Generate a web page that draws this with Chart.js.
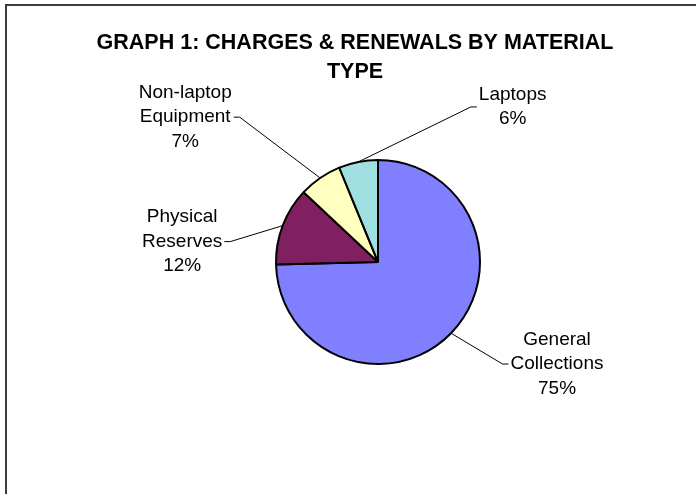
<!DOCTYPE html>
<html><head><meta charset="utf-8">
<script src="https://cdn.jsdelivr.net/npm/chart.js@4.4.1/dist/chart.umd.min.js"></script>
<style>
html,body{margin:0;padding:0;background:#fff;overflow:hidden}
#wrap{position:relative;width:696px;height:494px;overflow:hidden}
#frame{position:absolute;left:5px;top:4px;width:800px;height:600px;border-left:2px solid #3c3c3c;border-top:2px solid #3c3c3c;box-sizing:border-box}
canvas{position:absolute;left:0;top:0}
</style></head><body>
<div id="wrap"><div id="frame"></div><canvas id="c" width="696" height="494"></canvas></div>
<script>
const titleLines = ['GRAPH 1: CHARGES & RENEWALS BY MATERIAL', 'TYPE'];
const categories = ['General Collections', 'Physical Reserves', 'Non-laptop Equipment', 'Laptops'];
const values = [74.6, 12.4, 6.8, 6.2];
const colors = ['#8080FF', '#802060', '#FFFFC0', '#A0E0E0'];
// label block anchor (centre x, middle y) relative to pie centre, in units of the pie radius
const labelAnchors = [[1.755, 1.0], [-1.92, -0.2], [-1.89, -1.42], [1.32, -1.52]];

const labelPlugin = {
  id: 'excelLabels',
  afterDraw(chart) {
    const ctx = chart.ctx;
    const meta = chart.getDatasetMeta(0);
    const total = values.reduce((a, b) => a + b, 0);
    ctx.save();
    ctx.fillStyle = '#000';
    ctx.strokeStyle = '#000';
    ctx.lineWidth = 1;
    ctx.textAlign = 'center';
    ctx.textBaseline = 'middle';
    // title
    ctx.font = 'bold 21.5px "Liberation Sans", Arial, sans-serif';
    titleLines.forEach((t, k) => ctx.fillText(t, 355, 43 + k * 29.5));
    // data labels with leader lines
    ctx.font = '19px "Liberation Sans", Arial, sans-serif';
    const lh = 24.5;
    meta.data.forEach((arc, i) => {
      const p = arc.getProps(['x', 'y', 'startAngle', 'endAngle', 'outerRadius'], true);
      const mid = (p.startAngle + p.endAngle) / 2;
      const px = p.x + Math.cos(mid) * p.outerRadius;
      const py = p.y + Math.sin(mid) * p.outerRadius;
      const lines = categories[i].split(' ').concat([Math.round(values[i] / total * 100) + '%']);
      const cx = p.x + labelAnchors[i][0] * p.outerRadius;
      const cy = p.y + labelAnchors[i][1] * p.outerRadius;
      const w = Math.max(...lines.map(l => ctx.measureText(l).width));
      const n = lines.length;
      lines.forEach((l, k) => ctx.fillText(l, cx, cy + (k - (n - 1) / 2) * lh));
      const side = cx > p.x ? -1 : 1;
      const ex = cx + side * (w / 2 + 2);
      const hx = ex + side * 6;
      ctx.beginPath();
      ctx.moveTo(px, py);
      ctx.lineTo(hx, cy);
      ctx.lineTo(ex, cy);
      ctx.stroke();
    });
    ctx.restore();
  }
};

new Chart(document.getElementById('c'), {
  type: 'pie',
  data: {
    labels: categories,
    datasets: [{
      data: values,
      backgroundColor: colors,
      borderColor: '#000',
      borderWidth: 2,
      hoverOffset: 0
    }]
  },
  options: {
    responsive: false,
    animation: false,
    events: [],
    layout: { padding: { left: 275, right: 215, top: 159, bottom: 129 } },
    plugins: { legend: { display: false }, title: { display: false }, tooltip: { enabled: false } }
  },
  plugins: [labelPlugin]
});
</script>
</body></html>
